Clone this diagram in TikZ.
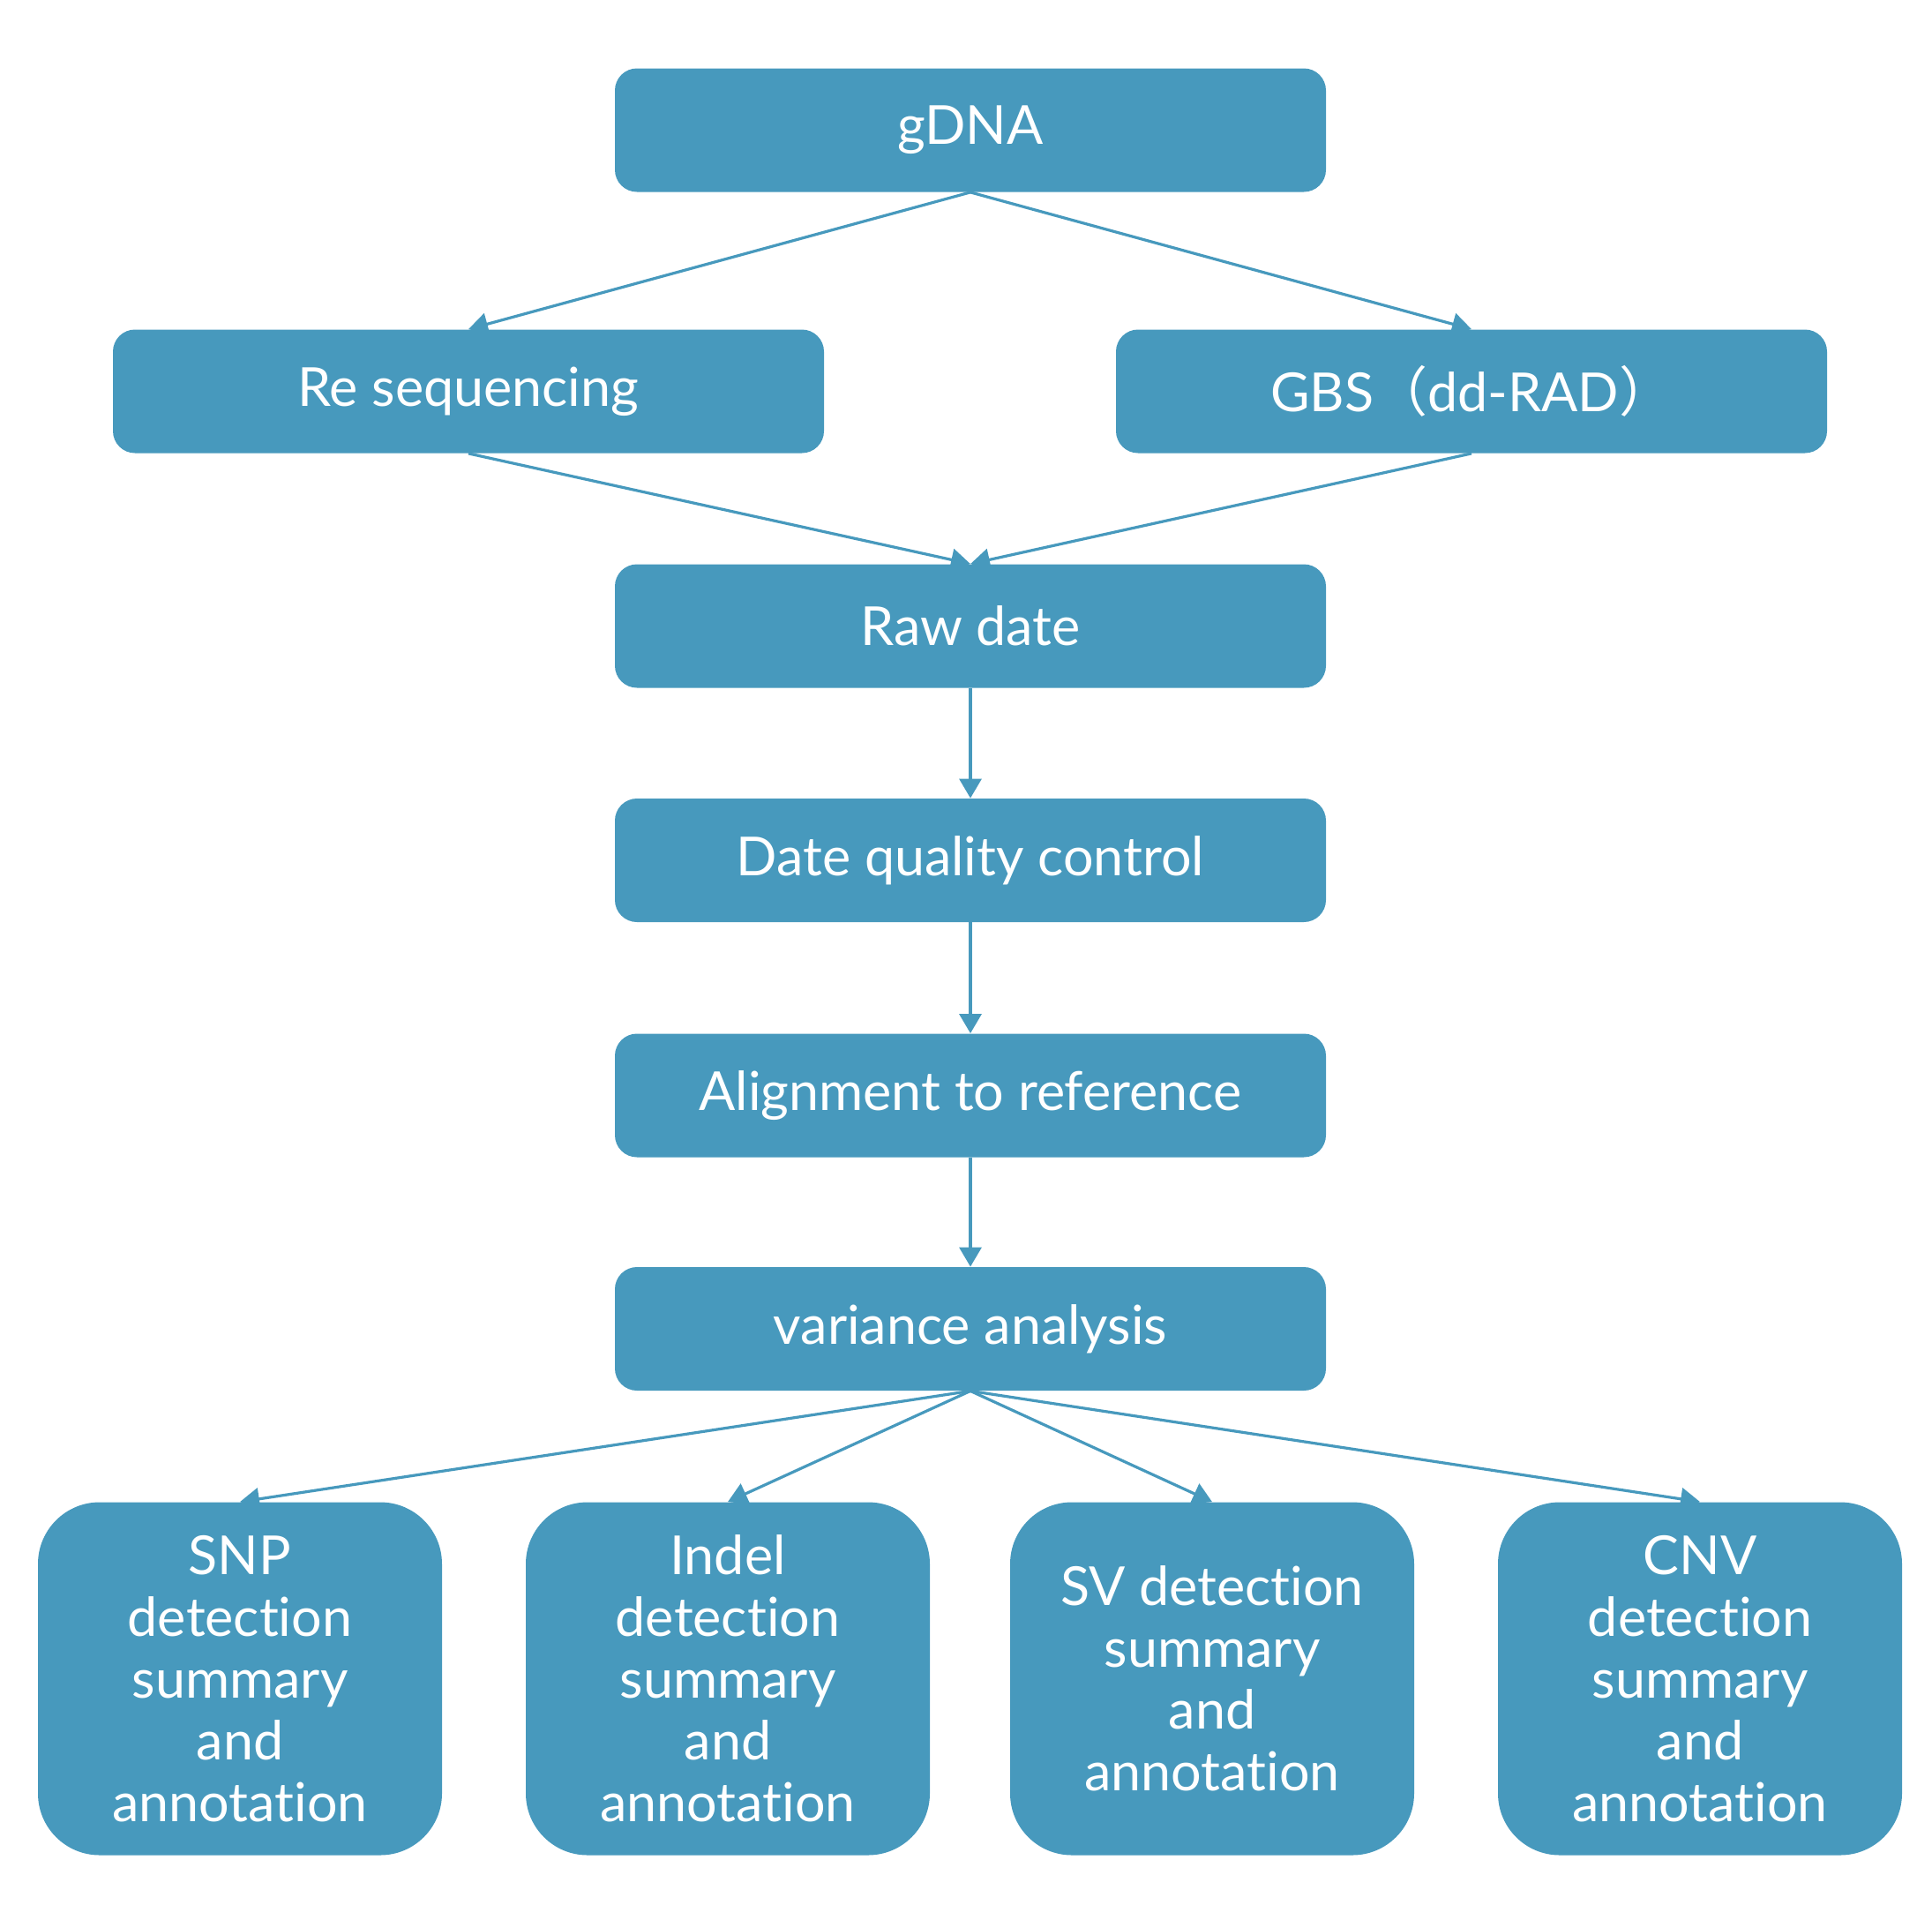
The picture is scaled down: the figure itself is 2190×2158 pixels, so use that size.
\documentclass[tikz,border=0pt]{standalone}
\usepackage{fontspec}
\setmainfont[Ligatures=NoCommon]{Lato}
\newfontfamily\cjk{Noto Sans CJK SC}
\usetikzlibrary{arrows.meta}
\definecolor{boxblue}{RGB}{71,153,189}
\tikzset{
  flowbox/.style={rectangle, rounded corners=12.5pt, fill=boxblue, text=white,
    minimum width=403pt, minimum height=70pt, inner sep=0pt,
    font=\fontsize{30.5}{35}\selectfont},
  resbox/.style={rectangle, rounded corners=35pt, fill=boxblue, text=white,
    minimum width=229pt, minimum height=200pt, inner sep=0pt, align=center,
    font=\fontsize{30.5}{35}\selectfont},
  link/.style={draw=boxblue, line width=1.6pt, -{Triangle[length=11pt,width=12.5pt]}}
}
\begin{document}
\begin{tikzpicture}[x=0.5pt,y=-0.5pt]
\useasboundingbox (0,0) rectangle (2190,2158);
\node[flowbox] (gdna) at (1100,147.5) {gDNA};
\node[flowbox] (reseq) at (531,443.5) {Re sequencing};
\node[flowbox] (gbs) at (1668,443.5) {GBS{\cjk （}dd-RAD{\cjk ）}};
\node[flowbox] (raw) at (1100,709.5) {Raw date};
\node[flowbox] (qc) at (1100,975) {Date quality control};
\node[flowbox] (align) at (1100,1241.5) {Alignment to reference};
\node[flowbox] (var) at (1100,1506) {variance analysis};
\node[resbox] (snp) at (272,1902.5) {SNP\\detection\\summary\\and\\annotation};
\node[resbox] (indel) at (825,1902.5) {Indel\\detection\\summary\\and\\annotation};
\node[resbox] (sv) at (1374,1902.5) {SV detection\\summary\\and\\annotation};
\node[resbox] (cnv) at (1927,1902.5) {CNV\\detection\\summary\\and\\annotation};
\draw[link] (gdna.south) -- (reseq.north);
\draw[link] (gdna.south) -- (gbs.north);
\draw[link] (reseq.south) -- (raw.north);
\draw[link] (gbs.south) -- (raw.north);
\draw[link] (raw) -- (qc);
\draw[link] (qc) -- (align);
\draw[link] (align) -- (var);
\draw[link] (var.south) -- (snp.north);
\draw[link] (var.south) -- (indel.north);
\draw[link] (var.south) -- (sv.north);
\draw[link] (var.south) -- (cnv.north);
\end{tikzpicture}
\end{document}
